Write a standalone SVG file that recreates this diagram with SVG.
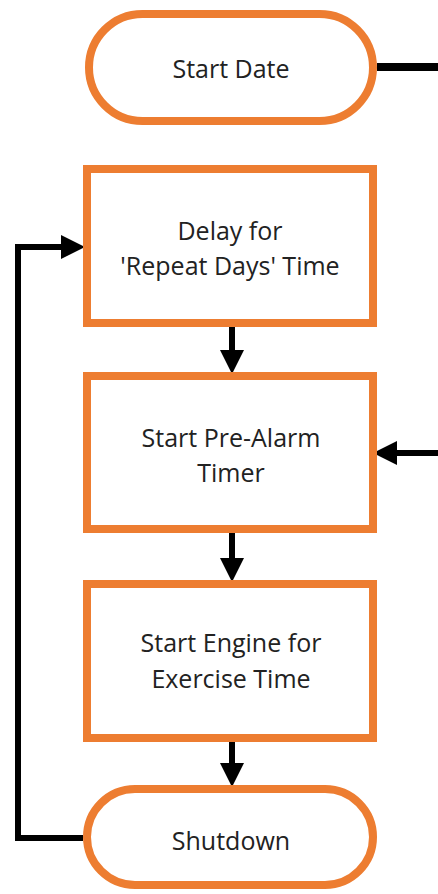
<svg xmlns="http://www.w3.org/2000/svg" width="438" height="894" viewBox="0 0 438 894">
<defs>
<style>
.box{fill:#fff;stroke:#ED7D31;stroke-width:8}
.lbl{font-family:"Open Sans","Liberation Sans",sans-serif;font-size:25px;fill:#222;text-anchor:middle}
.con{fill:none;stroke:#000;stroke-width:6}
</style>
<marker id="ah" markerUnits="userSpaceOnUse" markerWidth="24" markerHeight="24" viewBox="0 0 22 22" refX="0" refY="11" orient="auto">
<path d="M0,0 L22,11 L0,22 z" fill="#000"/>
</marker>
</defs>
<rect width="438" height="894" fill="#fff"/>
<g id="connectors">
<line class="con" x1="377" y1="67" x2="438" y2="67" style="stroke-width:8"/>
<line class="con" x1="232" y1="327" x2="232" y2="350" marker-end="url(#ah)"/>
<line class="con" x1="438" y1="453" x2="397" y2="453" marker-end="url(#ah)"/>
<line class="con" x1="232" y1="533" x2="232" y2="558" marker-end="url(#ah)"/>
<line class="con" x1="232" y1="742" x2="232" y2="763" marker-end="url(#ah)"/>
<polyline class="con" points="83,838 18,838 18,247 61,247" marker-end="url(#ah)"/>
</g>
<g id="start-date">
<rect class="box" x="89" y="14" width="284" height="107" rx="53.5"/>
<text class="lbl" x="231" y="78">Start Date</text>
</g>
<g id="delay">
<rect class="box" x="87" y="169" width="286" height="154"/>
<text class="lbl" x="230" y="240">Delay for</text>
<text class="lbl" x="230" y="275">'Repeat Days' Time</text>
</g>
<g id="pre-alarm">
<rect class="box" x="87" y="376" width="286" height="153"/>
<text class="lbl" x="231" y="447">Start Pre-Alarm</text>
<text class="lbl" x="231" y="482">Timer</text>
</g>
<g id="engine">
<rect class="box" x="87" y="584" width="286" height="154"/>
<text class="lbl" x="231" y="652">Start Engine for</text>
<text class="lbl" x="231" y="688">Exercise Time</text>
</g>
<g id="shutdown">
<rect class="box" x="87" y="789" width="286" height="96" rx="48"/>
<text class="lbl" x="231" y="850">Shutdown</text>
</g>
</svg>
